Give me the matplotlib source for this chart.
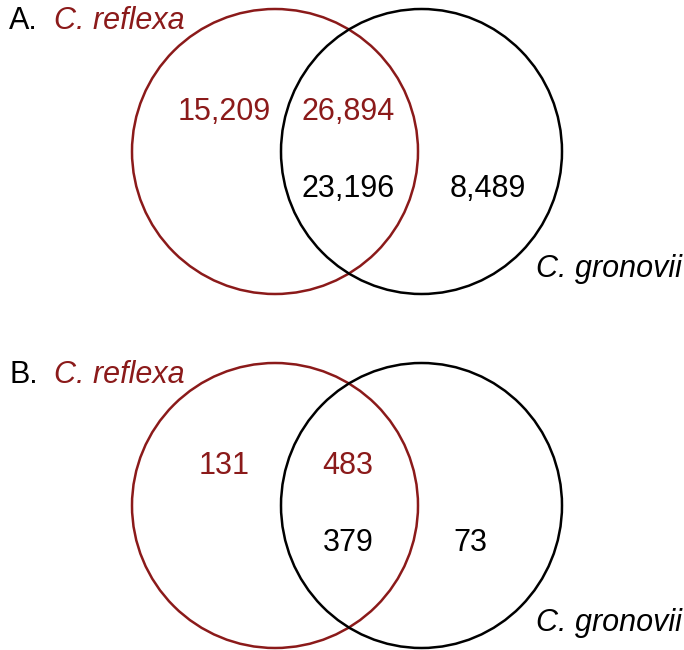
import matplotlib
matplotlib.use("Agg")
import matplotlib.pyplot as plt
from matplotlib.patches import Ellipse

# Data
panel_labels = ["A.", "B."]
species = ["C. reflexa", "C. gronovii"]
reflexa_only = [15209, 131]
shared_reflexa = [26894, 483]
shared_gronovii = [23196, 379]
gronovii_only = [8489, 73]

RED = "#8b1a1a"
plt.rcParams["font.family"] = ["Liberation Sans", "DejaVu Sans"]

fig = plt.figure(figsize=(6.84, 6.5), dpi=100)
ax = fig.add_axes([0, 0, 1, 1])
ax.set_xlim(0, 684)
ax.set_ylim(650, 0)
ax.axis("off")

FS = 22
offsets = [0, 354]
for i, dy in enumerate(offsets):
    cy = 151.5 + dy
    ax.add_patch(Ellipse((275, cy), 286, 285, fill=False, edgecolor=RED, lw=1.8))
    ax.add_patch(Ellipse((421.5, cy), 281, 285, fill=False, edgecolor="black", lw=1.8))
    ax.text(9, 21 + dy, panel_labels[i], fontsize=FS, color="black", ha="left", va="center")
    ax.text(54, 21 + dy, species[0], fontsize=FS, color=RED, style="italic", ha="left", va="center")
    ax.text(682, 269 + dy, species[1], fontsize=FS, color="black", style="italic", ha="right", va="center")
    ax.text(224, 112 + dy, f"{reflexa_only[i]:,}", fontsize=FS, color=RED, ha="center", va="center")
    ax.text(348, 112 + dy, f"{shared_reflexa[i]:,}", fontsize=FS, color=RED, ha="center", va="center")
    ax.text(348, 189 + dy, f"{shared_gronovii[i]:,}", fontsize=FS, color="black", ha="center", va="center")
    ax.text(470 if i else 488, 189 + dy, f"{gronovii_only[i]:,}", fontsize=FS, color="black", ha="center", va="center")

fig.savefig("out.png", dpi=100)
